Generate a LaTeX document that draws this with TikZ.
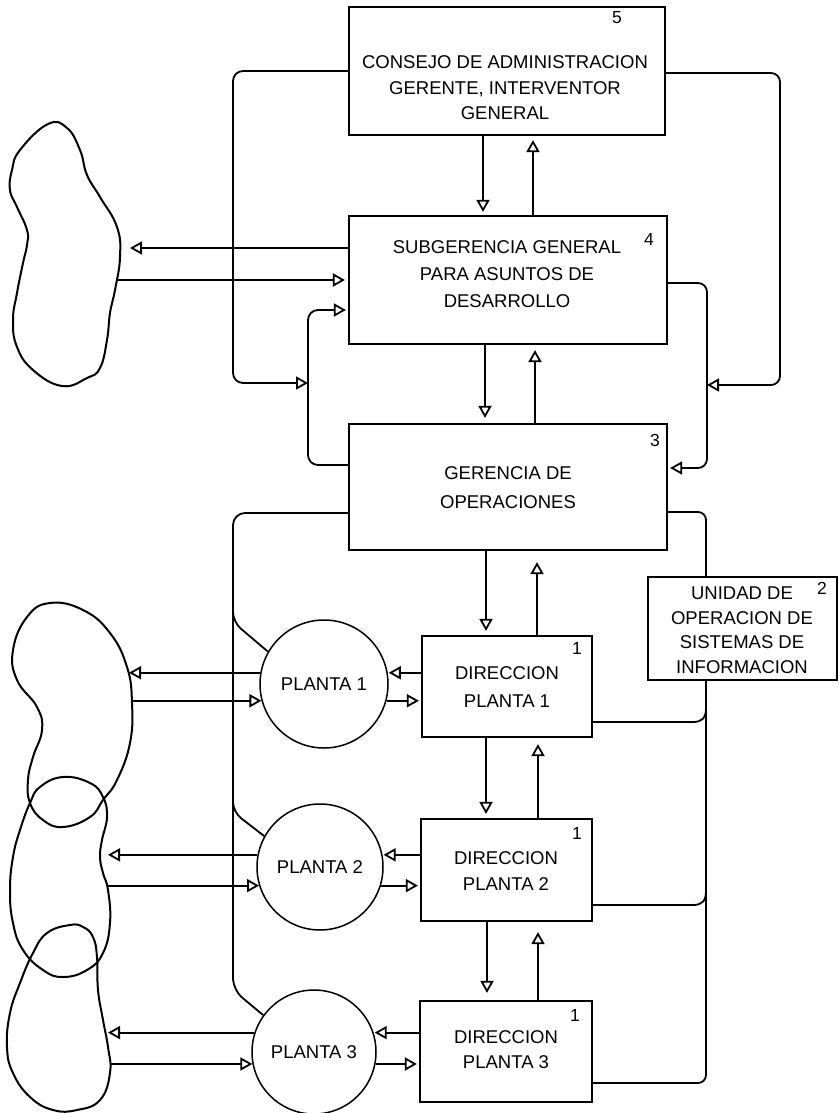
\documentclass[tikz,border=0pt]{standalone}
\usepackage{fontspec}
\setmainfont{Liberation Sans}
\usetikzlibrary{arrows.meta}

\begin{document}
\begin{tikzpicture}[x=1pt,y=-1pt,
  box/.style={draw, line width=2.2pt, inner sep=0pt},
  plant/.style={draw, circle, line width=1.5pt, inner sep=0pt, font=\fontsize{18.5}{22}\selectfont},
  txt/.style={align=center, inner sep=0pt},
  num/.style={inner sep=0pt, font=\fontsize{17.5}{20}\selectfont},
  wire/.style={line width=1.8pt},
  flow/.style={wire, -{Triangle[open, length=12pt, width=13pt]}},
  blob/.style={line width=2pt},
]
\useasboundingbox (0,0) rectangle (838,1113);

% main boxes
\node[box, minimum width=316pt, minimum height=128pt] (b5) at (507,71) {};
\node[box, minimum width=318pt, minimum height=128pt] (b4) at (508,280) {};
\node[box, minimum width=318pt, minimum height=126pt] (b3) at (508,487) {};
\node[box, minimum width=189pt, minimum height=103pt] (b2) at (742.5,628.5) {};
\node[box, minimum width=170pt, minimum height=101pt] (d1) at (507,686.5) {};
\node[box, minimum width=171pt, minimum height=102pt] (d2) at (506.5,870) {};
\node[box, minimum width=172pt, minimum height=101pt] (d3) at (506,1051.5) {};

% box texts
\node[txt, font=\fontsize{18.5}{25.5}\selectfont] (t5) at (505,88) {CONSEJO DE ADMINISTRACION\\GERENTE, INTERVENTOR\\GENERAL};
\node[txt, font=\fontsize{18.5}{27}\selectfont] (t4) at (507,274) {SUBGERENCIA GENERAL\\PARA ASUNTOS DE\\DESARROLLO};
\node[txt, font=\fontsize{18.5}{29}\selectfont] (t3) at (508,488) {GERENCIA DE\\OPERACIONES};
\node[txt, font=\fontsize{18.5}{24.5}\selectfont] (t2) at (742,630) {UNIDAD DE\\OPERACION DE\\SISTEMAS DE\\INFORMACION};
\node[txt, font=\fontsize{18.5}{28}\selectfont] (td1) at (507,687) {DIRECCION\\PLANTA 1};
\node[txt, font=\fontsize{18.5}{26}\selectfont] (td2) at (506,871) {DIRECCION\\PLANTA 2};
\node[txt, font=\fontsize{18.5}{25}\selectfont] (td3) at (506,1050) {DIRECCION\\PLANTA 3};

% level numbers
\node[num] (n5) at (617,18) {5};
\node[num] (n4) at (649,239) {4};
\node[num] (n3) at (655,440) {3};
\node[num] (n2) at (822,588) {2};
\node[num] (n1a) at (577,648) {1};
\node[num] (n1b) at (577,833) {1};
\node[num] (n1c) at (575,1015) {1};

% plants
\node[plant, minimum size=128pt] (p1) at (324,684) {PLANTA 1};
\node[plant, minimum size=126pt] (p2) at (320,867) {PLANTA 2};
\node[plant, minimum size=124pt] (p3) at (314,1052) {PLANTA 3};

% surroundings
\draw[blob] plot[smooth cycle, tension=0.75] coordinates {
  (48,124) (20,150) (12,170) (10,190) (17,207) (27,230) (27,245) (23,263)
  (17,293) (13,320) (17,347) (33,370) (62,386) (87,378) (100,368)
  (107,340) (110,313) (115,290) (120,257) (117,227) (100,197) (87,175)
  (80,150) (67,128)};
\draw[blob] plot[smooth cycle, tension=0.75] coordinates {
  (50,603) (27,617) (13,650) (17,680) (37,707) (42,730) (33,757) (28,780)
  (30,803) (43,820) (63,827) (90,817) (103,800) (117,780) (130,743)
  (132,703) (127,667) (110,633) (83,610)};
\draw[blob] plot[smooth cycle, tension=0.75] coordinates {
  (63,777) (40,787) (30,803) (20,830) (13,857) (10,890) (13,923) (23,950)
  (43,970) (63,977) (87,970) (103,953) (110,923) (108,890) (103,873)
  (100,857) (102,840) (107,817) (103,797) (90,783)};
\draw[blob] plot[smooth cycle, tension=0.75] coordinates {
  (70,925) (47,933) (33,953) (20,983) (10,1013) (7,1047) (13,1073)
  (30,1097) (53,1110) (77,1110) (100,1100) (110,1073) (108,1047)
  (103,1020) (98,990) (97,957) (93,937) (83,927)};

% points on the surroundings
\coordinate (c1in) at (130,248);
\coordinate (c1out) at (117,280);
\coordinate (c2in) at (129,673);
\coordinate (c2out) at (133,701);
\coordinate (c3in) at (108,855);
\coordinate (c3out) at (107,885);
\coordinate (c4in) at (108,1033);
\coordinate (c4out) at (111,1064);

% junction points on the feedback lines
\coordinate (j1) at (308,383);
\coordinate (j2) at (707,385);

% vertical chain of command
\draw[flow, shorten >=3pt] (b5.south -| 483,0) -- (b4.north -| 483,0);
\draw[flow, shorten >=4pt] (b4.north -| 533,0) -- (b5.south -| 533,0);
\draw[flow, shorten >=5pt] (b4.south -| 485,0) -- (b3.north -| 485,0);
\draw[flow, shorten >=5pt] (b3.north -| 535,0) -- (b4.south -| 535,0);
\draw[flow, shorten >=4pt] (b3.south -| 486,0) -- (d1.north -| 486,0);
\draw[flow, shorten >=11pt] (d1.north -| 537,0) -- (b3.south -| 537,0);
\draw[flow, shorten >=4pt] (d1.south -| 486,0) -- (d2.north -| 486,0);
\draw[flow, shorten >=6pt] (d2.north -| 538,0) -- (d1.south -| 538,0);
\draw[flow, shorten >=7pt] (d2.south -| 487,0) -- (d3.north -| 487,0);
\draw[flow, shorten >=10pt] (d3.north -| 538,0) -- (d2.south -| 538,0);

% development office and its surroundings
\draw[flow] (b4.west |- c1in) -- (c1in);
\draw[flow, shorten >=3pt] (c1out) -- (b4.west |- c1out);

% feedback loops on the left
\draw[flow, rounded corners=10pt] (b5.west |- 0,71) -- (233,71) -- (233,383) -- (j1);
\draw[flow, rounded corners=10pt, shorten >=2pt] (b3.west |- 0,465) -- (308,465) -- (308,310) -- (b4.west |- 0,310);

% feedback loops on the right
\draw[flow, rounded corners=9pt] (b5.east |- 0,73) -- (780,73) -- (780,385) -- (j2);
\draw[flow, rounded corners=9pt, shorten >=2pt] (b4.east |- 0,283) -- (707,283) -- (707,468) -- (b3.east |- 0,468);

% operations to plants
\draw[wire, rounded corners=12pt] (b3.west |- 0,513) -- (233,513) -- (233,990) -- (p3.144);
\draw[wire, rounded corners=10pt] (233,600) -- (233,622) -- (p1.150);
\draw[wire, rounded corners=10pt] (233,790) -- (233,812) -- (p2.151);

% information system bus
\draw[wire, rounded corners=8pt] (b3.east |- 0,512) -- (706,512) -- (b2.north -| 706,0);
\draw[wire, rounded corners=8pt] (b2.south -| 706,0) -- (706,1083) -- (d3.east |- 0,1083);
\draw[wire] (d1.east |- 0,722) -- (693,722) .. controls (702,722) and (706,718) .. (706,708);
\draw[wire] (d2.east |- 0,905) -- (693,905) .. controls (702,905) and (706,901) .. (706,891);

% plant 1
\draw[flow, shorten >=1pt] (p1.10 -| d1.west) -- (p1.10);
\draw[flow, shorten >=2pt] (p1.-15) -- (p1.-15 -| d1.west);
\draw[flow] (p1.170) -- (p1.170 -| c2in);
\draw[flow] (p1.195 -| c2out) -- (p1.195);

% plant 2
\draw[flow, shorten >=1pt] (p2.11 -| d2.west) -- (p2.11);
\draw[flow, shorten >=2pt] (p2.-17) -- (p2.-17 -| d2.west);
\draw[flow] (p2.169) -- (p2.169 -| c3in);
\draw[flow] (p2.197 -| c3out) -- (p2.197);

% plant 3
\draw[flow, shorten >=1pt] (p3.18 -| d3.west) -- (p3.18);
\draw[flow, shorten >=2pt] (p3.-11) -- (p3.-11 -| d3.west);
\draw[flow] (p3.162) -- (p3.162 -| c4in);
\draw[flow] (p3.191 -| c4out) -- (p3.191);
\end{tikzpicture}
\end{document}
